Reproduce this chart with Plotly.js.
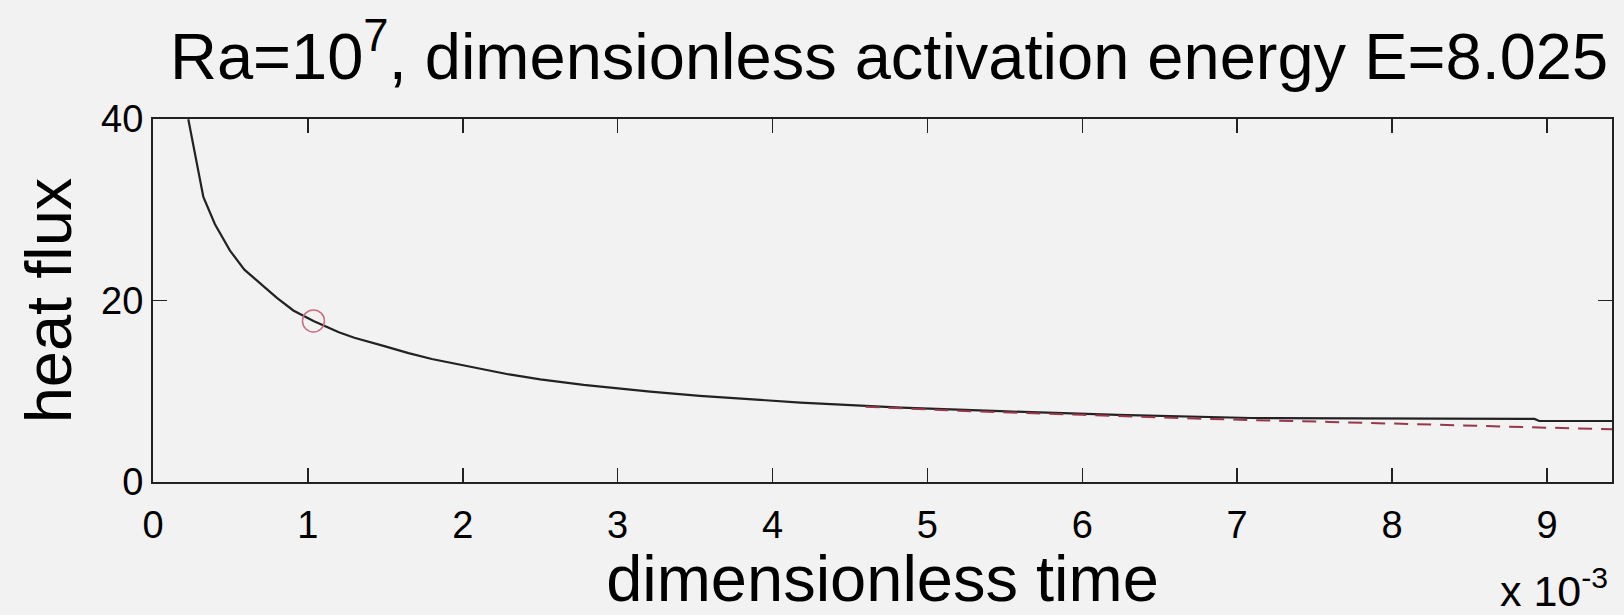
<!DOCTYPE html>
<html>
<head>
<meta charset="utf-8">
<script src="https://cdn.plot.ly/plotly-3.0.1.min.js"></script>
<style>
  html, body { margin: 0; padding: 0; background: #f2f2f2; }
  #chart { width: 1624px; height: 615px; }
</style>
</head>
<body>
<div id="chart"></div>
<script>
// dimensionless time (in units of 1e-3) and heat flux
var solidTime = [0.228, 0.325, 0.4, 0.497, 0.59, 0.69, 0.8, 0.906, 1.036, 1.2, 1.3, 1.488, 1.65, 1.8, 2.134, 2.3, 2.5, 2.78, 3.21, 3.53, 4.18, 4.83, 5.47, 6.23, 7.09, 7.6, 8.92, 8.95, 9.42];
var solidFlux = [39.97, 31.4, 28.4, 25.5, 23.4, 21.9, 20.3, 18.9, 17.75, 16.5, 15.9, 15.0, 14.2, 13.55, 12.4, 11.85, 11.3, 10.7, 9.95, 9.5, 8.75, 8.2, 7.8, 7.4, 7.05, 7.0, 6.95, 6.72, 6.72];

var dashTime = [4.6, 5.2, 6.0, 6.8, 7.6, 8.38, 9.11, 9.42];
var dashFlux = [8.3, 7.85, 7.4, 6.95, 6.62, 6.24, 5.88, 5.8];

var markTime = [1.036];
var markFlux = [17.75];

var xTicks = [0, 1, 2, 3, 4, 5, 6, 7, 8, 9];
var yTicks = [0, 20, 40];

var font = "'Liberation Sans', Arial, Helvetica, sans-serif";

var traces = [
  {
    x: solidTime, y: solidFlux, type: 'scatter', mode: 'lines',
    line: { color: '#222222', width: 2.2 }, hoverinfo: 'skip'
  },
  {
    x: dashTime, y: dashFlux, type: 'scatter', mode: 'lines',
    line: { color: 'rgb(150,55,75)', width: 2, dash: '14px,9px' }, hoverinfo: 'skip'
  },
  {
    x: markTime, y: markFlux, type: 'scatter', mode: 'markers',
    marker: { symbol: 'circle-open', size: 22, color: 'rgb(200,110,130)', line: { width: 1.5, color: 'rgb(200,110,130)' } },
    hoverinfo: 'skip'
  }
];

var axisCommon = {
  showline: true, linecolor: '#222', linewidth: 2, mirror: 'ticks',
  ticks: 'inside', ticklen: 14, tickwidth: 1.5, tickcolor: '#222',
  showgrid: false, zeroline: false,
  tickfont: { family: font, size: 38, color: '#000' }
};

var layout = {
  width: 1624, height: 615,
  paper_bgcolor: '#f2f2f2', plot_bgcolor: '#f2f2f2',
  margin: { l: 153, r: 12, t: 119, b: 133 },
  showlegend: false,
  title: {
    text: 'Ra=10<sup>7</sup>, dimensionless activation energy E=8.025',
    font: { family: font, size: 65, color: '#000' },
    x: 0.5045, xref: 'paper', xanchor: 'center',
    y: 0.9463, yref: 'container', yanchor: 'top'
  },
  xaxis: Object.assign({}, axisCommon, {
    range: [0, 9.42], tickvals: xTicks, ticktext: xTicks.map(String),
    ticklabelstandoff: 8,
    title: { text: 'dimensionless time', font: { family: font, size: 65, color: '#000' }, standoff: 14 }
  }),
  yaxis: Object.assign({}, axisCommon, {
    range: [0, 40], tickvals: yTicks, ticktext: yTicks.map(String),
    title: { text: 'heat flux', font: { family: font, size: 65, color: '#000' }, standoff: 8 }
  }),
  annotations: [
    {
      text: 'x 10<sup>-3</sup>', xref: 'paper', yref: 'paper',
      x: 0.9986, y: -0.372, xanchor: 'right', yanchor: 'bottom',
      showarrow: false, font: { family: font, size: 43, color: '#000' }
    }
  ]
};

Plotly.newPlot('chart', traces, layout, { displayModeBar: false, staticPlot: true });
</script>
</body>
</html>
